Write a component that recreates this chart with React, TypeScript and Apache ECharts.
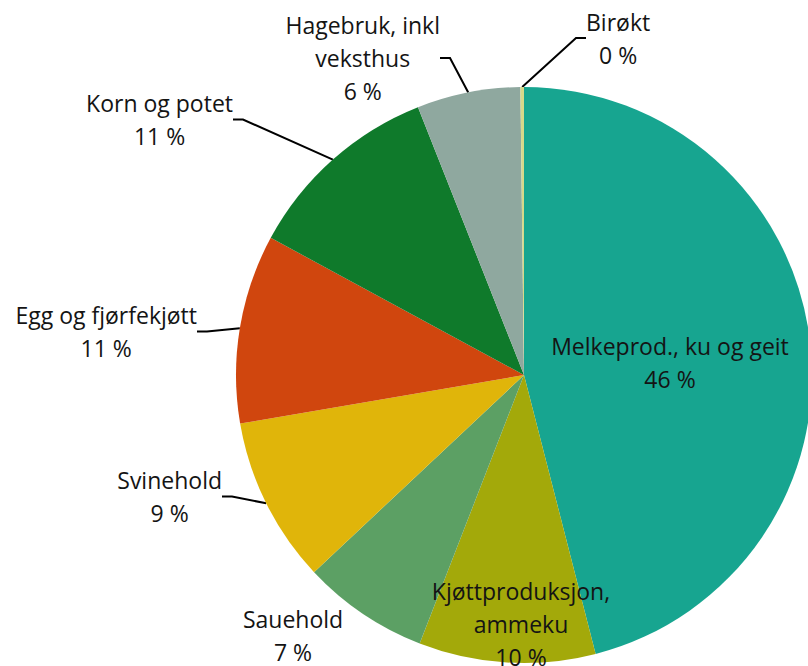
import { useEffect, useRef } from 'react';
import * as echarts from 'echarts';

// ---- data ----
const CATEGORIES = [
  'Melkeprod., ku og geit',
  'Kjøttproduksjon,\nammeku',
  'Sauehold',
  'Svinehold',
  'Egg og fjørfekjøtt',
  'Korn og potet',
  'Hagebruk, inkl\nveksthus',
  'Birøkt',
];
const SHARES = [46.0, 9.9, 7.1, 9.3, 10.6, 11.1, 5.8, 0.2];
const COLORS = ['#17A590', '#A3A90A', '#5CA064', '#E0B50A', '#D0460E', '#0F7A2B', '#8FA89F', '#D6D98A'];

// ---- label placement (layout only) ----
const LABEL_PLACES = [
  { x: 670, y: 362, align: 'center', pad: [0, 0, 0, 0], line: false },
  { x: 521, y: 624, align: 'center', pad: [0, 0, 0, 0], line: false },
  { x: 293, y: 635, align: 'center', pad: [0, 0, 0, 0], line: false },
  { x: 222, y: 489, align: 'right', pad: [15, 0, 0, 0], line: true },
  { x: 197, y: 322, align: 'right', pad: [19, 0, 0, 0], line: true },
  { x: 233, y: 109, align: 'right', pad: [21, 0, 0, 0], line: true },
  { x: 440, y: 38, align: 'right', pad: [80, 0, 40, 0], line: true },
  { x: 586, y: 38, align: 'left', pad: [0, 0, 0, 0], line: true },
];

const FONT = '"Open Sans", "Noto Sans", sans-serif';

export default function App() {
  const ref = useRef<HTMLDivElement>(null);
  useEffect(() => {
    if (!ref.current) return;
    const chart = echarts.init(ref.current, undefined, { renderer: 'svg' });
    const data = CATEGORIES.map((name, i) => ({
      name,
      value: SHARES[i],
      itemStyle: { color: COLORS[i] },
      label: { padding: LABEL_PLACES[i].pad },
      labelLine: { show: LABEL_PLACES[i].line },
    }));
    chart.setOption({
      animation: false,
      backgroundColor: '#ffffff',
      series: [
        {
          type: 'pie',
          center: [524, 375],
          radius: 288,
          startAngle: 90,
          clockwise: true,
          avoidLabelOverlap: false,
          itemStyle: { borderWidth: 0 },
          emphasis: { disabled: true },
          label: {
            show: true,
            position: 'outside',
            formatter: (p: any) => {
              const lines = String(p.name).split('\n');
              lines.push(`${Math.round(p.percent)} %`);
              return lines.map((l) => `{t|${l}}`).join('\n');
            },
            rich: {
              t: {
                align: 'center',
                fontSize: 23,
                lineHeight: 33,
                fontFamily: FONT,
                color: '#141414',
              },
            },
          },
          labelLine: {
            show: true,
            length: 20,
            length2: 10,
            smooth: false,
            lineStyle: { color: '#000000', width: 2 },
          },
          labelLayout: (params: any) => {
            const p = LABEL_PLACES[params.dataIndex];
            return { x: p.x, y: p.y, align: p.align, verticalAlign: 'middle' };
          },
          data,
        },
      ],
    });
    return () => chart.dispose();
  }, []);
  return (
    <div
      ref={ref}
      style={{ position: 'absolute', left: 0, top: 0, width: 808, height: 666 }}
    />
  );
}
